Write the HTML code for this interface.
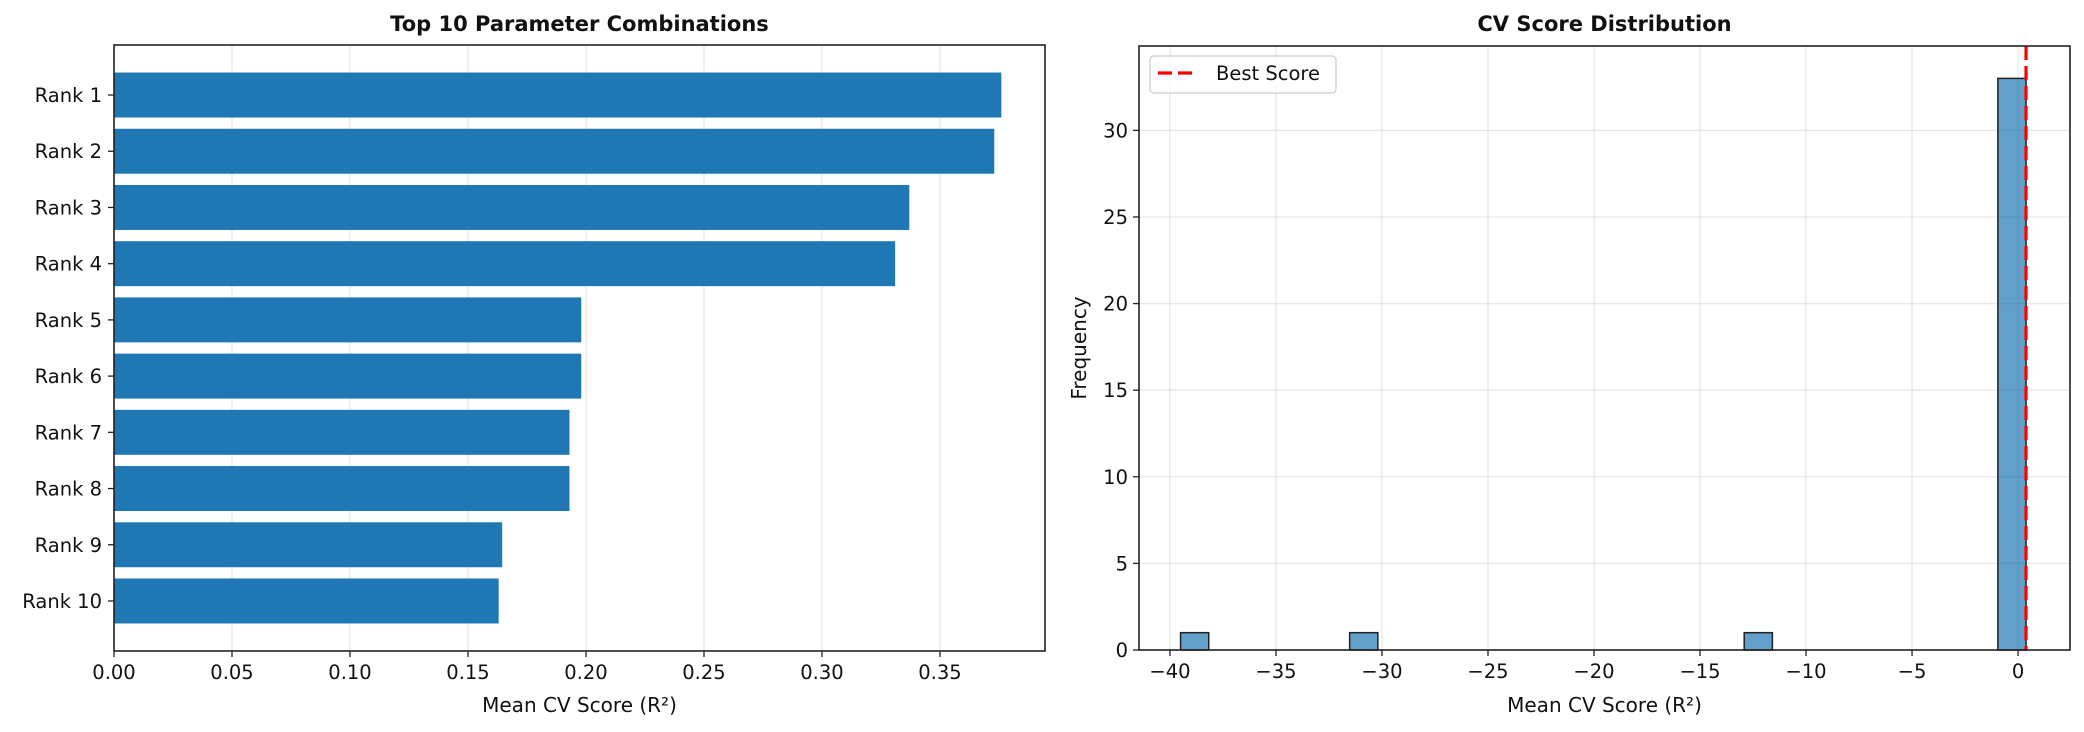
<!DOCTYPE html>
<html><head><meta charset="utf-8"><style>
body{margin:0;background:#fff}
svg{display:block;font-family:"DejaVu Sans","Liberation Sans",sans-serif}
</style></head><body>
<svg id="c" width="2084" height="732" viewBox="0 0 2084 732" xmlns="http://www.w3.org/2000/svg">
<rect width="2084" height="732" fill="#fff"/>
</svg>
<script>
const rankLabels=["Rank 1","Rank 2","Rank 3","Rank 4","Rank 5","Rank 6","Rank 7","Rank 8","Rank 9","Rank 10"];
const rankScores=[0.376,0.373,0.337,0.331,0.198,0.198,0.193,0.193,0.1645,0.163];
const leftXTicks=[0,0.05,0.10,0.15,0.20,0.25,0.30,0.35];
const histMin=-39.5;
const histMax=0.376;
const histCounts=[1,0,0,0,0,0,1,0,0,0,0,0,0,0,0,0,0,0,0,0,1,0,0,0,0,0,0,0,0,33];
const bestScore=0.376;
const rightXTicks=[-40,-35,-30,-25,-20,-15,-10,-5,0];
const rightYTicks=[0,5,10,15,20,25,30];

const NS="http://www.w3.org/2000/svg";
const svg=document.getElementById('c');
const TF=19.5;
function mk(tag,attrs,parent,text){const e=document.createElementNS(NS,tag);for(const k in attrs)e.setAttribute(k,attrs[k]);if(text!==undefined)e.textContent=text;(parent||svg).appendChild(e);return e;}
function fmt(v){return v<0?'\u2212'+(-v):String(v);}

// LEFT
const L={x0:114,x1:1045,y0:45,y1:651};
const lx=v=>L.x0+(v-0)/(0.3945-0)*(L.x1-L.x0);
const nR=rankLabels.length;
const lyMin=-0.49-0.4, lyMax=(nR-1)+0.4+0.49;
const ly=i=>L.y0+(i-lyMin)/(lyMax-lyMin)*(L.y1-L.y0);
const bandH=(L.y1-L.y0)/(lyMax-lyMin);
const gL=mk('g',{});


leftXTicks.forEach(t=>{
  const l=mk('line',{x1:lx(t),x2:lx(t),y1:L.y0,y2:L.y1,stroke:'#b0b0b0','stroke-opacity':0.3,'stroke-width':1.3},gL);
  
});
rankScores.forEach((v,i)=>{
  const r=mk('rect',{x:lx(0),y:ly(i)-0.4*bandH,width:lx(v)-lx(0),height:0.8*bandH,fill:'#1f77b4'},gL);
  
  mk('line',{x1:L.x0-6,x2:L.x0,y1:ly(i),y2:ly(i),stroke:'#222','stroke-width':1.3},gL);
  const t=mk('text',{x:L.x0-12,y:ly(i)+7,'text-anchor':'end','font-size':TF,fill:'#111'},gL,rankLabels[i]);
  
});
leftXTicks.forEach(t=>{
  mk('line',{x1:lx(t),x2:lx(t),y1:L.y1,y2:L.y1+6,stroke:'#222','stroke-width':1.3},gL);
  const e=mk('text',{x:lx(t),y:L.y1+28,'text-anchor':'middle','font-size':TF,fill:'#111'},gL,t.toFixed(2));
  
});
mk('rect',{x:L.x0,y:L.y0,width:L.x1-L.x0,height:L.y1-L.y0,fill:'none',stroke:'#222','stroke-width':1.6},gL);
let e=mk('text',{x:(L.x0+L.x1)/2,y:31,'text-anchor':'middle','font-size':21,'font-weight':'bold',fill:'#111'},gL,'Top 10 Parameter Combinations');

e=mk('text',{x:(L.x0+L.x1)/2,y:712,'text-anchor':'middle','font-size':20,fill:'#111'},gL,'Mean CV Score (R²)');


// RIGHT
const R={x0:1139,x1:2070,y0:46,y1:650};
const rxMin=-41.46, rxMax=2.45;
const rx=v=>R.x0+(v-rxMin)/(rxMax-rxMin)*(R.x1-R.x0);
const ryMax=34.87;
const ry=v=>R.y1-v/ryMax*(R.y1-R.y0);
const gR=mk('g',{});


rightXTicks.forEach(t=>{
  const l=mk('line',{x1:rx(t),x2:rx(t),y1:R.y0,y2:R.y1,stroke:'#b0b0b0','stroke-opacity':0.3,'stroke-width':1.3},gR);
  
});
rightYTicks.forEach(t=>{
  const l=mk('line',{x1:R.x0,x2:R.x1,y1:ry(t),y2:ry(t),stroke:'#b0b0b0','stroke-opacity':0.3,'stroke-width':1.3},gR);
  
});
const bw=(histMax-histMin)/histCounts.length;
histCounts.forEach((c,i)=>{
  if(c<=0)return;
  const a=histMin+i*bw;
  const r=mk('rect',{x:rx(a),y:ry(c),width:rx(a+bw)-rx(a),height:ry(0)-ry(c),fill:'#1f77b4','fill-opacity':0.7,stroke:'#222','stroke-width':1.5},gR);
  
});
e=mk('line',{x1:rx(bestScore),x2:rx(bestScore),y1:R.y0,y2:R.y1,stroke:'#ff0000','stroke-width':3.2,'stroke-dasharray':'14 6'},gR);

rightXTicks.forEach(t=>{
  mk('line',{x1:rx(t),x2:rx(t),y1:R.y1,y2:R.y1+6,stroke:'#222','stroke-width':1.3},gR);
  const q=mk('text',{x:rx(t),y:R.y1+28,'text-anchor':'middle','font-size':TF,fill:'#111'},gR,fmt(t));
  
});
rightYTicks.forEach(t=>{
  mk('line',{x1:R.x0-6,x2:R.x0,y1:ry(t),y2:ry(t),stroke:'#222','stroke-width':1.3},gR);
  const q=mk('text',{x:R.x0-11,y:ry(t)+7,'text-anchor':'end','font-size':TF,fill:'#111'},gR,String(t));
  
});
mk('rect',{x:R.x0,y:R.y0,width:R.x1-R.x0,height:R.y1-R.y0,fill:'none',stroke:'#222','stroke-width':1.6},gR);
e=mk('text',{x:(R.x0+R.x1)/2,y:31,'text-anchor':'middle','font-size':21,'font-weight':'bold',fill:'#111'},gR,'CV Score Distribution');

e=mk('text',{x:(R.x0+R.x1)/2,y:712,'text-anchor':'middle','font-size':20,fill:'#111'},gR,'Mean CV Score (R²)');

e=mk('text',{x:1086,y:348,'text-anchor':'middle','font-size':20,fill:'#111',transform:'rotate(-90 1086 348)'},gR,'Frequency');

const lg=mk('g',{},gR);


mk('rect',{x:1150,y:56,width:186,height:37,rx:4,fill:'#fff','fill-opacity':0.8,stroke:'#ccc','stroke-width':1.3},lg);
mk('line',{x1:1158,x2:1196,y1:73,y2:73,stroke:'#ff0000','stroke-width':3.2,'stroke-dasharray':'14 6'},lg);
e=mk('text',{x:1216,y:80,'font-size':TF,fill:'#111'},lg,'Best Score');

</script>
</body></html>
